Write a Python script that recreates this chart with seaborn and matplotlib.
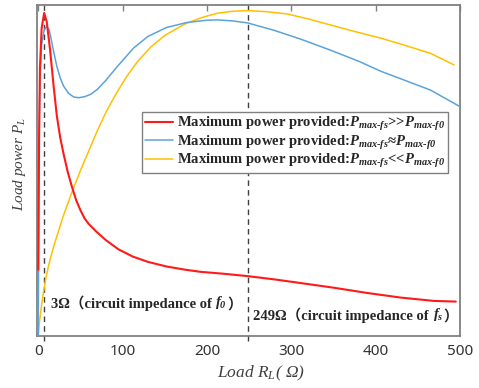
import numpy as np
import pandas as pd
import matplotlib
matplotlib.use("Agg")
import matplotlib.pyplot as plt
import seaborn as sns

sns.set_style("white")
plt.rcParams.update({
    "font.family": ["Liberation Serif", "Noto Sans CJK SC", "DejaVu Sans"],
    "mathtext.fontset": "custom",
    "mathtext.rm": "Liberation Serif:bold",
    "mathtext.it": "Liberation Serif:italic",
    "mathtext.bf": "Liberation Serif:bold",
    "mathtext.bfit": "Liberation Serif:italic:bold",
})

RED = "#FF1A1A"
BLUE = "#5BA3DC"
YELLOW = "#FFC000"
FRAME = "#808080"

# ── values (P_L normalised to the frame height) ─────────────────────────────
red_x = [0, 0.5, 1, 2, 4, 7, 10, 14, 18, 22, 26, 30, 35, 40, 45, 50, 55, 60, 69,
         80, 95, 112, 130, 152, 175, 192, 220, 248, 280, 311, 350, 390, 430, 469, 495]
red_y = [0.20, 0.42, 0.60, 0.81, 0.93, 0.976, 0.95, 0.865, 0.76, 0.665, 0.60, 0.55,
         0.495, 0.45, 0.41, 0.38, 0.355, 0.338, 0.315, 0.29, 0.262, 0.24, 0.224,
         0.21, 0.20, 0.194, 0.188, 0.181, 0.171, 0.160, 0.146, 0.130, 0.116, 0.106,
         0.104]

blue_x = [0, 0.3, 0.6, 1, 2, 4, 7, 10, 13, 18, 22, 26, 30, 36, 42, 48, 55, 62, 70,
          80, 93, 113, 130, 152, 176, 200, 212, 230, 248, 279, 311, 346, 380, 406,
          435, 465, 500]
blue_y = [0.0, 0.20, 0.45, 0.60, 0.78, 0.88, 0.925, 0.935, 0.925, 0.862, 0.815,
          0.78, 0.755, 0.733, 0.722, 0.72, 0.723, 0.73, 0.745, 0.772, 0.812, 0.87,
          0.905, 0.932, 0.947, 0.954, 0.955, 0.952, 0.946, 0.924, 0.897, 0.864,
          0.83, 0.80, 0.772, 0.743, 0.693]

yellow_x = [0, 1, 2, 4, 6, 9, 12, 16, 20, 25, 30, 35, 40, 50, 60, 70, 81, 93, 105,
            118, 133, 150, 165, 176, 195, 212, 230, 248, 270, 295, 320, 346, 375,
            406, 435, 465, 493]
yellow_y = [0.0, 0.03, 0.055, 0.095, 0.13, 0.175, 0.21, 0.25, 0.285, 0.325, 0.365,
            0.40, 0.435, 0.50, 0.56, 0.62, 0.68, 0.735, 0.785, 0.83, 0.872, 0.908,
            0.93, 0.945, 0.963, 0.975, 0.981, 0.983, 0.98, 0.973, 0.958, 0.94, 0.92,
            0.90, 0.878, 0.854, 0.819]

labels = [
    r"Maximum power provided:$\mathbfit{P}_{\mathbfit{max}\text{-}\mathbfit{fs}}$>>$\mathbfit{P}_{\mathbfit{max}\text{-}\mathbfit{f0}}$",
    r"Maximum power provided:$\mathbfit{P}_{\mathbfit{max}\text{-}\mathbfit{fs}}$≈$\mathbfit{P}_{\mathbfit{max}\text{-}\mathbfit{f0}}$",
    r"Maximum power provided:$\mathbfit{P}_{\mathbfit{max}\text{-}\mathbfit{fs}}$<<$\mathbfit{P}_{\mathbfit{max}\text{-}\mathbfit{f0}}$",
]
f0_load = 7      # where the 3 Ω marker sits on the axis
fs_load = 249
xticks = [0, 100, 200, 300, 400, 500]
note_f0 = ["3Ω（circuit impedance of ", r"$\mathbfit{f}_{\mathbfit{0}}$", "）"]
note_fs = ["249Ω（circuit impedance of ", r"$\mathbfit{f}_{\mathbfit{s}}$", "）"]

df = pd.concat([
    pd.DataFrame({"R": red_x, "P": red_y, "case": labels[0]}),
    pd.DataFrame({"R": blue_x, "P": blue_y, "case": labels[1]}),
    pd.DataFrame({"R": yellow_x, "P": yellow_y, "case": labels[2]}),
])

fig = plt.figure(figsize=(4.79, 3.88), dpi=100)
ax = fig.add_axes([37 / 479, 1 - 336 / 388, 423 / 479, 331 / 388])

sns.lineplot(data=df, x="R", y="P", hue="case", hue_order=labels,
             palette=dict(zip(labels, [RED, BLUE, YELLOW])), estimator=None,
             sort=False, ax=ax, linewidth=1.1, legend=False)
# red drawn on top, slightly heavier
for line, lw, z in zip(ax.lines, [1.5, 1.1, 1.1], [4, 3, 2]):
    line.set_linewidth(lw)
    line.set_zorder(z)

for xv in (f0_load, fs_load):
    ax.axvline(xv, ymin=-0.015, ymax=1, color="#404040", linestyle=(0, (4, 3)),
               linewidth=1.0, clip_on=False, zorder=1)

ax.set_xlim(-1.5, 500)
ax.set_ylim(0, 1)
ax.set_xticks(xticks)
ax.set_xticklabels([str(t) for t in xticks], family="Noto Sans", fontsize=11, color="#333333")
ax.set_yticks([])
ax.tick_params(axis="x", direction="in", top=True, length=4, width=1, color=FRAME, pad=6)
for s in ax.spines.values():
    s.set_color(FRAME)
    s.set_linewidth(1.3)

ax.set_xlabel(r"Load $R_L$( Ω)", fontsize=12.5, style="italic", color="#404040")
ax.xaxis.set_label_coords(0.53, -0.085)
ax.set_ylabel(r"Load power $P_L$", fontsize=11, style="italic", color="#404040")
ax.yaxis.set_label_coords(-0.022, 0.52)


def note(x, y, parts):
    # plain pieces keep the font fallback for the full-width brackets
    t = ax.text(x, y, parts[0], fontsize=10.5, fontweight="bold", va="bottom", ha="left")
    for p in parts[1:]:
        t = ax.annotate(p, xy=(1, 0), xycoords=t, fontsize=10.5, fontweight="bold",
                        va="bottom", ha="left")


note(14.7, 0.075, note_f0)
note(255, 0.038, note_fs)

handles = ax.lines[:3]
leg = ax.legend(handles, labels, loc="upper right", bbox_to_anchor=(0.972, 0.677),
                prop={"family": ["Liberation Serif", "DejaVu Sans"], "weight": "bold", "size": 10.5},
                frameon=True, fancybox=False, framealpha=1, edgecolor=FRAME,
                handlelength=1.9, handletextpad=0.3, borderpad=0.2, labelspacing=0.05,
                borderaxespad=0)
leg.get_frame().set_linewidth(1.0)

fig.savefig("out.png", dpi=100)
